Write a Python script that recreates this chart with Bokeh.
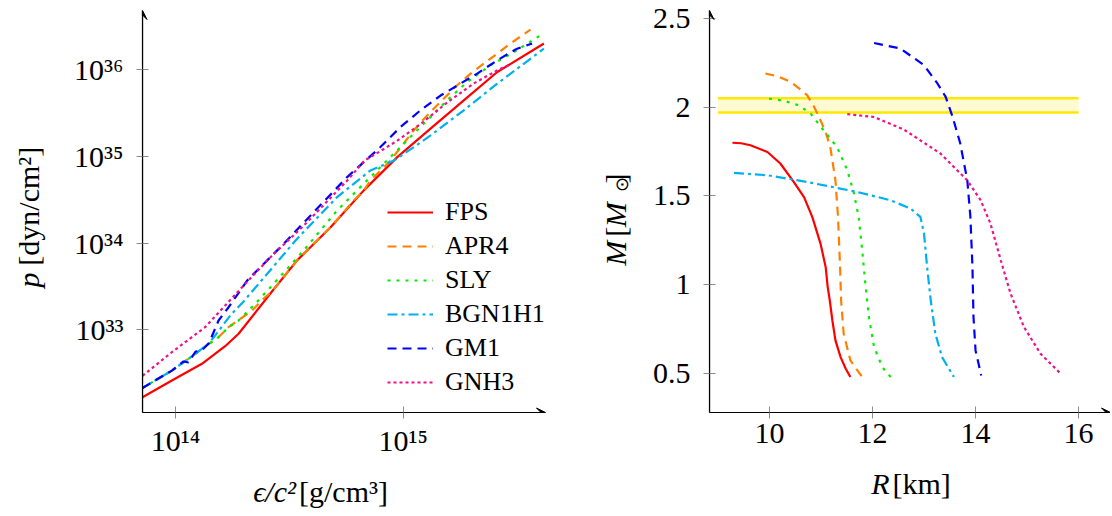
from math import pi
from bokeh.plotting import figure
from bokeh.layouts import row, column
from bokeh.models import Range1d, FixedTicker, CustomJSTickFormatter, Label, Arrow, VeeHead
from bokeh.embed import file_html
from bokeh.resources import INLINE

SERIF = "Liberation Serif"

# ---------------- data ----------------
names = ["FPS", "APR4", "SLY", "BGN1H1", "GM1", "GNH3"]
colors = ["#ff0000", "#ff8000", "#00ee00", "#00b0f0", "#0000ff", "#f0108a"]
dashes = ["solid", "9 6", "3 6", "10 4 3 4", "9 6", "3 3"]

# Equation of state: log10(eps/c^2 [g/cm^3]) and log10(p [dyn/cm^2])
fps_log_eps = [13.855, 13.984, 14.116, 14.218, 14.277, 14.42, 14.534, 14.681, 14.827, 14.974, 15.12, 15.266, 15.413, 15.618]
fps_log_p = [32.223, 32.415, 32.608, 32.811, 32.954, 33.43, 33.80, 34.183, 34.607, 34.99, 35.318, 35.645, 35.971, 36.299]

apr4_log_eps = [13.855, 13.984, 14.087, 14.145, 14.174, 14.233, 14.335, 14.394, 14.42, 14.534, 14.681, 14.783, 14.827, 14.856, 14.944, 15.047, 15.091, 15.135, 15.237, 15.296, 15.354, 15.413, 15.471, 15.523, 15.559]
apr4_log_p = [32.33, 32.53, 32.723, 32.84, 32.877, 33.03, 33.22, 33.376, 33.43, 33.80, 34.183, 34.49, 34.607, 34.72, 34.95, 35.30, 35.43, 35.55, 35.818, 35.953, 36.068, 36.183, 36.299, 36.394, 36.46]

sly_log_eps = [13.855, 13.984, 14.087, 14.145, 14.174, 14.233, 14.277, 14.35, 14.417, 14.563, 14.71, 14.856, 14.915, 15.105, 15.193, 15.281, 15.383, 15.486, 15.61]
sly_log_p = [32.33, 32.53, 32.723, 32.84, 32.877, 33.03, 33.107, 33.30, 33.49, 33.915, 34.376, 34.76, 34.915, 35.414, 35.645, 35.856, 36.048, 36.20, 36.406]

bgn1h1_log_eps = [13.855, 13.984, 14.087, 14.145, 14.174, 14.242, 14.30, 14.388, 14.534, 14.71, 14.856, 14.959, 15.047, 15.12, 15.266, 15.413, 15.618]
bgn1h1_log_p = [32.33, 32.53, 32.723, 32.84, 32.934, 33.17, 33.33, 33.60, 34.05, 34.53, 34.837, 34.95, 35.106, 35.24, 35.53, 35.837, 36.24]

gm1_log_eps = [13.855, 13.984, 14.035, 14.057, 14.088, 14.114, 14.145, 14.152, 14.189, 14.233, 14.315, 14.461, 14.607, 14.754, 14.90, 14.988, 15.076, 15.164, 15.325, 15.413, 15.50, 15.566]
gm1_log_p = [32.33, 32.53, 32.635, 32.623, 32.75, 32.76, 32.84, 32.877, 33.107, 33.26, 33.569, 33.953, 34.356, 34.76, 35.106, 35.337, 35.53, 35.70, 35.953, 36.106, 36.24, 36.30]

gnh3_log_eps = [13.855, 13.984, 14.13, 14.32, 14.417, 14.563, 14.754, 14.83, 14.90, 14.974, 15.076, 15.193, 15.31, 15.413, 15.47]
gnh3_log_p = [32.47, 32.742, 33.03, 33.569, 33.837, 34.2, 34.72, 34.95, 35.06, 35.18, 35.37, 35.62, 35.84, 35.99, 36.06]

# Mass-radius relations: R [km], M [M_sun]
fps_R = [9.28, 9.45, 9.63, 9.96, 10.21, 10.47, 10.67, 10.83, 10.99, 11.09, 11.13, 11.17, 11.22, 11.28, 11.38, 11.48, 11.57]
fps_M = [1.80, 1.797, 1.786, 1.748, 1.683, 1.579, 1.494, 1.382, 1.232, 1.10, 0.987, 0.912, 0.80, 0.687, 0.592, 0.527, 0.48]

apr4_R = [9.92, 10.15, 10.41, 10.60, 10.73, 10.87, 11.0, 11.10, 11.18, 11.28, 11.33, 11.37, 11.39, 11.44, 11.57, 11.80]
apr4_M = [2.19, 2.175, 2.143, 2.10, 2.068, 2.0, 1.92, 1.85, 1.776, 1.588, 1.382, 1.10, 0.912, 0.724, 0.574, 0.48]

sly_R = [9.99, 10.28, 10.57, 10.80, 11.05, 11.31, 11.51, 11.64, 11.73, 11.80, 11.86, 11.93, 12.03, 12.19, 12.38]
sly_M = [2.049, 2.036, 2.011, 1.964, 1.87, 1.776, 1.645, 1.514, 1.382, 1.194, 1.006, 0.818, 0.649, 0.536, 0.47]

bgn1h1_R = [9.31, 9.96, 10.73, 11.70, 12.35, 12.74, 12.93, 13.0, 13.06, 13.13, 13.22, 13.35, 13.58]
bgn1h1_M = [1.63, 1.617, 1.579, 1.523, 1.476, 1.429, 1.382, 1.288, 1.10, 0.912, 0.724, 0.592, 0.48]

gm1_R = [12.03, 12.54, 13.0, 13.26, 13.42, 13.55, 13.70, 13.84, 13.90, 13.94, 13.96, 14.0, 14.11]
gm1_M = [2.362, 2.331, 2.237, 2.134, 2.058, 1.95, 1.80, 1.588, 1.382, 1.10, 0.818, 0.63, 0.489]

gnh3_R = [11.51, 12.03, 12.61, 13.32, 13.84, 14.10, 14.29, 14.49, 14.68, 14.94, 15.26, 15.65]
gnh3_M = [1.961, 1.945, 1.874, 1.739, 1.588, 1.476, 1.344, 1.138, 0.95, 0.762, 0.612, 0.50]

# observational band (2.01 +/- 0.04 M_sun)
band_R = [9.0, 16.0]
band_low = [1.97, 1.97]
band_high = [2.05, 2.05]

eos_x = [fps_log_eps, apr4_log_eps, sly_log_eps, bgn1h1_log_eps, gm1_log_eps, gnh3_log_eps]
eos_y = [fps_log_p, apr4_log_p, sly_log_p, bgn1h1_log_p, gm1_log_p, gnh3_log_p]
mr_x = [fps_R, apr4_R, sly_R, bgn1h1_R, gm1_R, gnh3_R]
mr_y = [fps_M, apr4_M, sly_M, bgn1h1_M, gm1_M, gnh3_M]

eps_ticks = [1e14, 1e15]
p_ticks = [1e33, 1e34, 1e35, 1e36]
R_ticks = [10, 12, 14, 16]
M_ticks = [0.5, 1, 1.5, 2, 2.5]

# ---------------- helpers ----------------
pow_fmt = CustomJSTickFormatter(code="""
const sup = {'0':'\u2070','1':'\u00b9','2':'\u00b2','3':'\u00b3','4':'\u2074',
             '5':'\u2075','6':'\u2076','7':'\u2077','8':'\u2078','9':'\u2079','-':'\u207b'};
const e = Math.round(Math.log10(tick));
return '10' + String(e).split('').map(c => sup[c]).join('');
""")
plain_fmt = CustomJSTickFormatter(code="return tick.toString();")

TOP_H = 460     # height of the row holding the two panels
BOT_H = 56      # strip holding the x-axis titles


def style(p):
    p.grid.visible = False
    p.outline_line_color = None
    p.background_fill_color = "white"
    p.border_fill_color = "white"
    for ax in p.axis:
        ax.axis_line_color = "black"
        ax.axis_line_width = 1.2
        ax.major_tick_line_color = "#8c8c8c"
        ax.major_tick_line_width = 1
        ax.major_tick_in = 6
        ax.major_tick_out = 6
        ax.minor_tick_line_color = None
        ax.major_label_text_font = SERIF
        ax.major_label_text_font_size = "30px"
        ax.major_label_text_color = "black"
    p.xaxis.major_label_standoff = 5
    p.yaxis.major_label_standoff = 13


def add_arrows(p, x0, x1, y0, y1):
    p.add_layout(Arrow(end=VeeHead(size=9, fill_color="black", line_color="black", line_width=1),
                       x_start=x0, y_start=y0, x_end=x0, y_end=y1, line_color="black", line_width=1.2))
    p.add_layout(Arrow(end=VeeHead(size=9, fill_color="black", line_color="black", line_width=1),
                       x_start=x0, y_start=y0, x_end=x1, y_end=y0, line_color="black", line_width=1.2))


def text_fig(w, h):
    # a blank strip (no axes) whose pixel grid is its own data space, used for axis titles
    f = figure(width=w, height=h, x_range=Range1d(0, w), y_range=Range1d(0, h),
               x_axis_location=None, y_axis_location=None, min_border=0,
               output_backend="svg", toolbar_location=None)
    f.grid.visible = False
    f.outline_line_color = None
    f.background_fill_color = "white"
    f.border_fill_color = "white"
    return f


def hlabel(f, x, base_y, text, style="normal", align="left", size=30):
    # horizontal text; base_y is the wanted baseline, measured down from the strip top
    f.add_layout(Label(x=x, y=f.height - (base_y - 0.4 * size), text=text, text_align=align,
                       text_baseline="alphabetic", text_font=SERIF, text_font_style=style,
                       text_font_size=f"{size}px", text_color="black"))


def vlabel(f, base_x, start_y, text, style="normal", size=30):
    # text rotated 90 deg, read bottom to top; starts at start_y (from strip top)
    f.add_layout(Label(x=base_x - 0.4 * size, y=f.height - (start_y + 0.9 * size), text=text,
                       angle=pi / 2, text_align="left", text_baseline="alphabetic",
                       text_font=SERIF, text_font_style=style, text_font_size=f"{size}px",
                       text_color="black"))

# ---------------- left: EOS ----------------
ex0, ex1 = 10**13.855, 10**15.625
ey0, ey1 = 10**32.047, 10**36.68
p1 = figure(x_axis_type="log", y_axis_type="log",
            x_range=Range1d(ex0, ex1), y_range=Range1d(ey0, ey1),
            frame_width=403, frame_height=402,
            min_border_left=82, min_border_right=17, min_border_top=10, min_border_bottom=TOP_H - 412,
            output_backend="svg", toolbar_location=None)
style(p1)
p1.xaxis.ticker = FixedTicker(ticks=eps_ticks, minor_ticks=[])
p1.yaxis.ticker = FixedTicker(ticks=p_ticks, minor_ticks=[])
p1.xaxis.formatter = pow_fmt
p1.yaxis.formatter = pow_fmt

for n, c, d, xs, ys in zip(names, colors, dashes, eos_x, eos_y):
    p1.line([10**v for v in xs], [10**v for v in ys], line_color=c, line_dash=d,
            line_width=2.2, legend_label=n)

lg = p1.legend[0]
lg.location = (245, 15)
lg.padding = 0
lg.margin = 0
lg.spacing = 4
lg.glyph_width = 46
lg.glyph_height = 24
lg.label_height = 24
lg.label_standoff = 12
lg.border_line_color = None
lg.background_fill_alpha = 0
lg.label_text_font = SERIF
lg.label_text_font_size = "26px"
lg.label_text_color = "black"

add_arrows(p1, ex0, ex1, ey0, ey1)

# ---------------- right: M-R ----------------
rx0, rx1 = 8.835, 16.62
ry0, ry1 = 0.2803, 2.545
p2 = figure(x_range=Range1d(rx0, rx1), y_range=Range1d(ry0, ry1),
            frame_width=401, frame_height=402,
            min_border_left=69, min_border_right=0, min_border_top=10, min_border_bottom=TOP_H - 412,
            output_backend="svg", toolbar_location=None)
style(p2)
p2.xaxis.ticker = FixedTicker(ticks=R_ticks, minor_ticks=[])
p2.yaxis.ticker = FixedTicker(ticks=M_ticks, minor_ticks=[])
p2.xaxis.formatter = plain_fmt
p2.yaxis.formatter = plain_fmt

p2.varea(x=band_R, y1=band_low, y2=band_high, fill_color="#fffad2")
p2.line(band_R, band_low, line_color="#ffe800", line_width=2.5)
p2.line(band_R, band_high, line_color="#ffe800", line_width=2.5)

for n, c, d, xs, ys in zip(names, colors, dashes, mr_x, mr_y):
    p2.line(xs, ys, line_color=c, line_dash=d, line_width=2.2)

add_arrows(p2, rx0, rx1, ry0, ry1)

# ---------------- axis titles ----------------
yl1 = text_fig(60, TOP_H)
vlabel(yl1, 40, 290, "p", style="italic")
vlabel(yl1, 40, 265, "[dyn/cm\u00b2]")

yl2 = text_fig(78, TOP_H)          # occupies page x 562..640
vlabel(yl2, 627 - 562, 265, "M", style="italic")
vlabel(yl2, 627 - 562, 232, "[")
vlabel(yl2, 627 - 562, 221, "M", style="italic")
vlabel(yl2, 629 - 562, 192, "\u2299", size=18)
vlabel(yl2, 627 - 562, 171, "]")

xl = text_fig(1110, BOT_H)         # occupies page y 460..516
hlabel(xl, 295.5, 503 - TOP_H, "\u03f5/c\u00b2", style="italic", align="right")
hlabel(xl, 298.5, 503 - TOP_H, "[g/cm\u00b3]")
hlabel(xl, 889, 495 - TOP_H, "R", style="italic", align="right")
hlabel(xl, 892, 495 - TOP_H, "[km]")

layout = column(row(yl1, p1, yl2, p2), xl)
open("out.html", "w").write(file_html(layout, INLINE))
